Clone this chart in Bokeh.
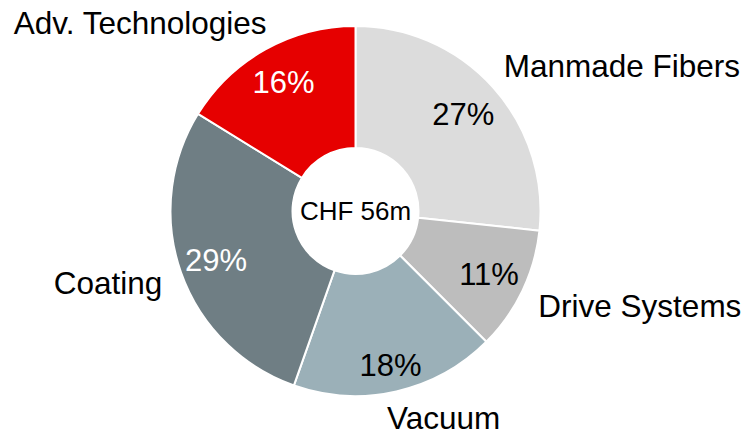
import numpy as np
from bokeh.plotting import figure
from bokeh.models import ColumnDataSource, Range1d
from bokeh.core.properties import value
from bokeh.embed import file_html
from bokeh.resources import INLINE

# ---- data (clockwise from 12 o'clock) ----
categories = ["Manmade Fibers", "Drive Systems", "Vacuum", "Coating", "Adv. Technologies"]
shares = [26.7, 10.8, 17.9, 28.4, 16.2]
pct_labels = ["27%", "11%", "18%", "29%", "16%"]
center_label = "CHF 56m"

# ---- style ----
colors = ["#dcdcdc", "#bdbdbd", "#9bb0b8", "#6f7e84", "#e60000"]
pct_colors = ["black", "black", "black", "white", "white"]
pct_r = [145, 148, 158, 148, 147.5]
out_r = 206
out_align = ["left", "left", "left", "right", "right"]
out_nudge_x = [-5, -3, -14, 1, 12]
out_nudge_y = [7, -6, -6, -3, 8]

W, H = 744, 435
cx, cy = 355.0, 224.5
R_OUT, R_IN = 185, 63
FONT = "Liberation Sans"

vals = np.array(shares, dtype=float)
frac = vals / vals.sum()
cum = np.concatenate([[0.0], np.cumsum(frac)]) * 2 * np.pi  # clockwise from top
theta0, theta1 = cum[:-1], cum[1:]
mid = (theta0 + theta1) / 2

src = ColumnDataSource(dict(
    start=np.pi / 2 - theta1,
    end=np.pi / 2 - theta0,
    color=colors,
))

p = figure(width=W, height=H, output_backend="svg", toolbar_location=None,
           x_range=Range1d(0, W), y_range=Range1d(0, H),
           min_border=0, outline_line_color=None)
p.axis.visible = False
p.xgrid.visible = False
p.ygrid.visible = False
p.background_fill_color = "white"
p.border_fill_color = "white"

p.annular_wedge(x=cx, y=cy, inner_radius=R_IN, outer_radius=R_OUT,
                start_angle="start", end_angle="end", fill_color="color",
                line_color="white", line_width=2, source=src)

# percentage labels inside the ring
pr = np.array(pct_r)
p.text(x=cx + pr * np.sin(mid), y=cy + pr * np.cos(mid), text=pct_labels,
       text_color=pct_colors, text_align="center", text_baseline="middle",
       text_font=value(FONT), text_font_size="31px")

# category labels outside
ox = cx + out_r * np.sin(mid) + np.array(out_nudge_x)
oy = cy + out_r * np.cos(mid) + np.array(out_nudge_y)
lab_src = ColumnDataSource(dict(x=ox, y=oy, text=categories, align=out_align))
p.text(x="x", y="y", text="text", text_align="align", text_baseline="middle",
       text_color="black", text_font=value(FONT), text_font_size="31.5px",
       source=lab_src)

# centre label
p.text(x=[cx], y=[cy], text=[center_label], text_align="center",
       text_baseline="middle", text_color="black",
       text_font=value(FONT), text_font_size="26px")

open("out.html", "w").write(file_html(p, INLINE))
